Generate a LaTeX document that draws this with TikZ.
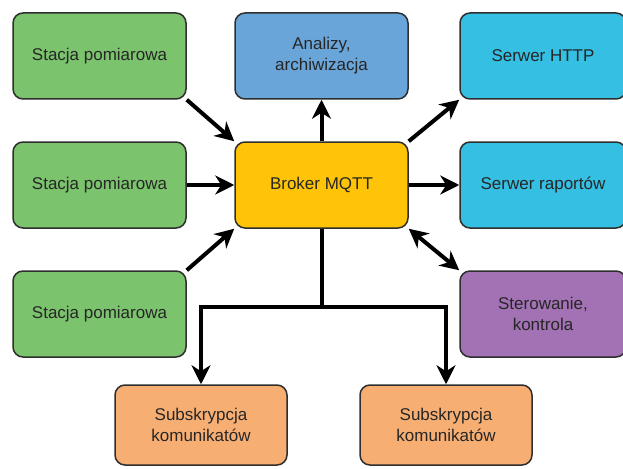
\documentclass[tikz,border=0pt]{standalone}
\usepackage{fontspec}
\setmainfont{Liberation Sans}
\usetikzlibrary{arrows.meta}
\definecolor{cgreen}{HTML}{7CC36E}
\definecolor{cblue}{HTML}{6AA5DA}
\definecolor{ccyan}{HTML}{35BFE3}
\definecolor{cyellow}{HTML}{FFC408}
\definecolor{cpurple}{HTML}{A272B4}
\definecolor{corange}{HTML}{F7AE73}
\definecolor{cborder}{HTML}{2E2E2E}
\tikzset{
  box/.style={draw=cborder, line width=1.5pt, rounded corners=10pt, align=center,
    minimum height=86pt, inner sep=0pt, text=black!85,
    font=\fontsize{17}{21}\selectfont},
  wide/.style={box, minimum width=173pt},
  conn/.style={line width=4pt, -{Stealth[length=19pt,width=19pt,inset=6pt]}},
  conn2/.style={line width=4pt, {Stealth[length=19pt,width=19pt,inset=6pt]}-{Stealth[length=19pt,width=19pt,inset=6pt]}},
  plain/.style={line width=4pt}
}
\begin{document}
\begin{tikzpicture}[x=1pt,y=-1pt]
\useasboundingbox (0,0) rectangle (623,468);
\clip (0,0) rectangle (623,468);
\node[wide, fill=cgreen] (g1) at (99.5,56) {Stacja pomiarowa};
\node[wide, fill=cgreen] (g2) at (99.5,185) {Stacja pomiarowa};
\node[wide, fill=cgreen] (g3) at (99.5,314) {Stacja pomiarowa};
\node[wide, fill=cblue] (an) at (321.5,56) {Analizy,\\archiwizacja};
\node[wide, fill=cyellow] (br) at (321.5,185) {Broker MQTT};
\node[box, minimum width=166pt, fill=ccyan] (http) at (543,56) {Serwer HTTP};
\node[box, minimum width=166pt, fill=ccyan] (rap) at (543,185) {Serwer raportów};
\node[box, minimum width=166pt, fill=cpurple] (ster) at (543,314) {Sterowanie,\\kontrola};
\node[box, minimum width=172pt, minimum height=80pt, fill=corange] (s1) at (201,425) {Subskrypcja\\komunikatów};
\node[box, minimum width=172pt, minimum height=80pt, fill=corange] (s2) at (446,425) {Subskrypcja\\komunikatów};
\coordinate (j) at (br.south |- 0,307);
\coordinate (jl) at (s1.north |- j);
\coordinate (jr) at (s2.north |- j);
\draw[conn] (g1.south east) -- (br.north west);
\draw[conn] (g2.east) -- (br.west);
\draw[conn] (g3.north east) -- (br.south west);
\draw[conn] (br.north) -- (an.south);
\draw[conn] (br.north east) -- (http.south west);
\draw[conn] (br.east) -- (rap.west);
\draw[conn2] (br.south east) -- (ster.north west);
\draw[plain] (br.south) -- (j);
\draw[conn] ([xshift=2pt]j) -- (jl) -- (s1.north);
\draw[conn] ([xshift=-2pt]j) -- (jr) -- (s2.north);
\end{tikzpicture}
\end{document}
